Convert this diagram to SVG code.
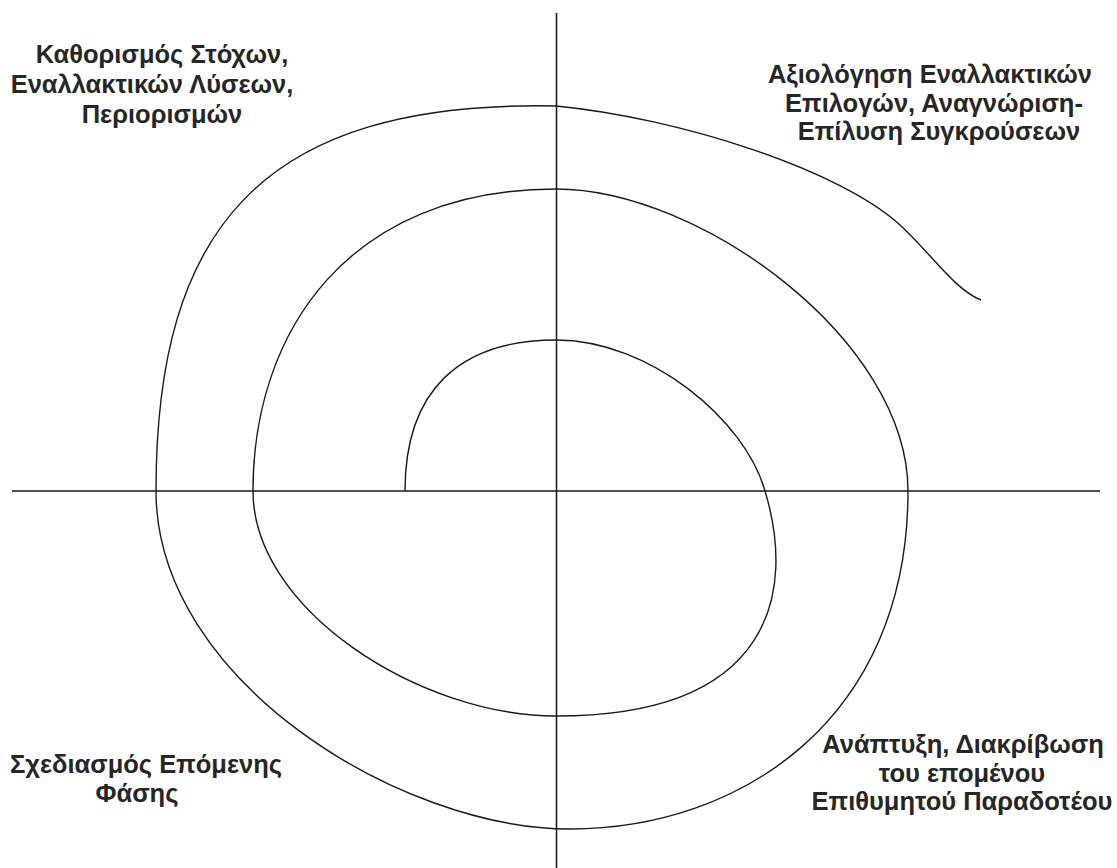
<svg xmlns="http://www.w3.org/2000/svg" width="1117" height="868" viewBox="0 0 1117 868">
<style>
.axis{stroke:#1a1a1a;stroke-width:1.6;fill:none}
.spiral{stroke:#1a1a1a;stroke-width:1.4;fill:none}
.lbl{font-family:"Liberation Sans",Arial,sans-serif;font-size:25.5px;font-weight:bold;fill:#262626;text-anchor:middle}
</style>
<rect width="1117" height="868" fill="#fff"/>
<g id="connectors">
<line class="axis" x1="556.5" y1="13" x2="556.5" y2="868"/>
<line class="axis" x1="12" y1="491" x2="1100" y2="491"/>
<path id="spiral" class="spiral" d="M405,491 C405,390 460,340 556,340 C650,340 745,420 765,491 C795,590 775,716 556,716 C420,716 253,610 253,491 C253,330 350,189 556,189 C700,189 908,340 908,491 C908,720 740,829 570,829 C400,829 156,680 156,491 C156,230 260,100 556,106 C680,118 840,170 900,225 C930,252.5 955,290 981,300"/>
</g>
<g id="label-tl">
<text class="lbl" x="162" y="63">Καθορισμός Στόχων,</text>
<text class="lbl" x="152" y="93">Εναλλακτικών Λύσεων,</text>
<text class="lbl" x="162" y="123">Περιορισμών</text>
</g>
<g id="label-tr">
<text class="lbl" x="930" y="83">Αξιολόγηση Εναλλακτικών</text>
<text class="lbl" x="934" y="112">Επιλογών, Αναγνώριση-</text>
<text class="lbl" x="939" y="140">Επίλυση Συγκρούσεων</text>
</g>
<g id="label-bl">
<text class="lbl" x="146" y="773">Σχεδιασμός Επόμενης</text>
<text class="lbl" x="137" y="802">Φάσης</text>
</g>
<g id="label-br">
<text class="lbl" x="963" y="753">Ανάπτυξη, Διακρίβωση</text>
<text class="lbl" x="962" y="782">του επομένου</text>
<text class="lbl" x="962" y="810">Επιθυμητού Παραδοτέου</text>
</g>
</svg>
